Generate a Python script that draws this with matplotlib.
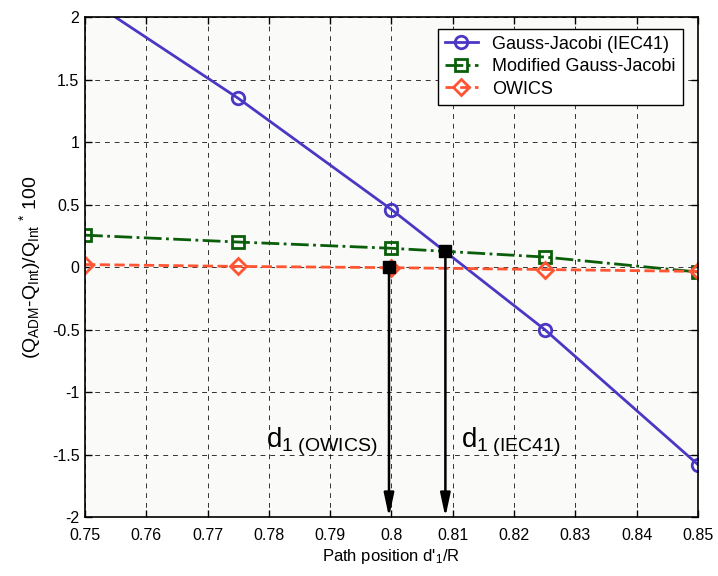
import matplotlib
matplotlib.use("Agg")
import matplotlib.pyplot as plt

plt.rcParams['font.family'] = ['Liberation Sans', 'DejaVu Sans']
plt.rcParams['mathtext.fontset'] = 'custom'
plt.rcParams['mathtext.rm'] = 'Liberation Sans'
plt.rcParams['mathtext.it'] = 'Liberation Sans'

x = [0.75, 0.775, 0.80, 0.825, 0.85]
gauss_jacobi = [2.16, 1.35, 0.46, -0.50, -1.58]
modified_gj = [0.255, 0.20, 0.15, 0.08, -0.04]
owics = [0.02, 0.005, -0.005, -0.02, -0.035]

d1_x = [0.7996, 0.8088]
d1_y = [0.0, 0.13]
d1_labels = ['OWICS', 'IEC41']
d1_text_x = [0.7795, 0.8113]

xticks = [0.75, 0.76, 0.77, 0.78, 0.79, 0.80, 0.81, 0.82, 0.83, 0.84, 0.85]
xticklabels = ['0.75', '0.76', '0.77', '0.78', '0.79', '0.8', '0.81', '0.82', '0.83', '0.84', '0.85']
yticks = [-2, -1.5, -1, -0.5, 0, 0.5, 1, 1.5, 2]
yticklabels = ['-2', '-1.5', '-1', '-0.5', '0', '0.5', '1', '1.5', '2']

fig = plt.figure(figsize=(7.18, 5.76), dpi=100)
ax = fig.add_axes([0.1184, 0.1024, 0.8536, 0.868])
ax.set_facecolor('#fafaf8')

ax.plot(x, gauss_jacobi, '-', color='#4a38c4', lw=2, marker='o', ms=9,
        mfc='none', mec='#4a38c4', mew=2, label='Gauss-Jacobi (IEC41)')
ax.plot(x, modified_gj, '-.', color='#0a5e0a', lw=2, marker='s', ms=9,
        mfc='none', mec='#0a5e0a', mew=2, label='Modified Gauss-Jacobi')
ax.plot(x, owics, '--', color='#ff5533', lw=2, marker='D', ms=8,
        mfc='none', mec='#ff5533', mew=2, label='OWICS')

ax.plot(d1_x, d1_y, 's', color='black', ms=9, zorder=5)
for xi, yi in zip(d1_x, d1_y):
    ax.annotate('', xy=(xi, -2), xytext=(xi, yi),
                arrowprops=dict(arrowstyle='-|>,head_length=1.4,head_width=0.3',
                                color='black', lw=1.8, shrinkA=0, shrinkB=0),
                zorder=4)
for tx, lab in zip(d1_text_x, d1_labels):
    ax.text(tx, -1.44, r'$\mathregular{d_{1\ (%s)}}$' % lab, fontsize=20,
            ha='left', va='baseline')

ax.set_xlim(0.75, 0.85)
ax.set_ylim(-2, 2)
ax.set_xticks(xticks)
ax.set_xticklabels(xticklabels)
ax.set_yticks(yticks)
ax.set_yticklabels(yticklabels)
ax.tick_params(direction='in', length=5, labelsize=11.5, top=True, right=True, width=1)
ax.tick_params(axis='x', pad=8)
ax.tick_params(axis='y', pad=4)
ax.grid(True, color='black', linestyle=(0, (5, 5)), lw=0.7, alpha=0.8)
for s in ax.spines.values():
    s.set_linewidth(1.2)

ax.set_xlabel(r"Path position d'$_\mathregular{1}$/R", fontsize=12, labelpad=3)
ax.set_ylabel(r'$\mathregular{(Q_{ADM}}$-$\mathregular{Q_{Int})/Q_{Int}\ ^{*}\ 100}$', fontsize=14, labelpad=6)

leg = ax.legend(loc='upper right', fontsize=13, fancybox=False, framealpha=1,
                edgecolor='black', handlelength=1.8, borderpad=0.4,
                labelspacing=0.3, bbox_to_anchor=(0.99, 0.995))
leg.get_frame().set_linewidth(1)

fig.savefig('out.png', dpi=100, facecolor='white')
